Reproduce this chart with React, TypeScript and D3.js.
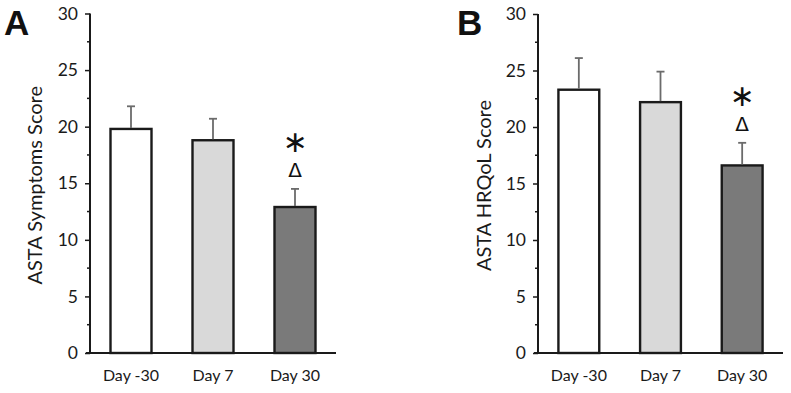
import { useEffect, useRef } from "react";
import * as d3 from "d3";

// categories shared by both panels
const days = ["Day -30", "Day 7", "Day 30"];
const barFills = ["#ffffff", "#d9d9d9", "#7a7a7a"];

// panel A - ASTA Symptoms
const symptomsMean = [19.8, 18.8, 12.9];
const symptomsErr = [2.0, 1.9, 1.6];

// panel B - ASTA HRQoL
const hrqolMean = [23.3, 22.2, 16.6];
const hrqolErr = [2.8, 2.7, 2.0];

const yTicks = [0, 5, 10, 15, 20, 25, 30];
const yMinorTicks = [2.5, 7.5, 12.5, 17.5, 22.5, 27.5];

const FONT = "Lato, 'Noto Sans', sans-serif";

const drawPanel = (svg, opts) => {
    const { left, right, top, bottom, letter, letterX, yLabel, yLabelX, means, errs } = opts;

    const x = d3.scaleBand().domain(days).range([left, right]).padding(0.5).paddingOuter(0.25);
    const y = d3.scaleLinear().domain([0, 30]).range([bottom, top]);

    const g = svg.append("g");

    // bars
    g.selectAll("rect.bar")
        .data(days)
        .join("rect")
        .attr("class", "bar")
        .attr("x", d => x(d))
        .attr("y", (d, i) => y(means[i]))
        .attr("width", x.bandwidth())
        .attr("height", (d, i) => y(0) - y(means[i]))
        .attr("fill", (d, i) => barFills[i])
        .attr("stroke", "#1a1a1a")
        .attr("stroke-width", 2.4);

    // error bars (upper only)
    const eb = g.selectAll("g.err").data(days).join("g").attr("class", "err");
    eb.append("line")
        .attr("x1", d => x(d) + x.bandwidth() / 2)
        .attr("x2", d => x(d) + x.bandwidth() / 2)
        .attr("y1", (d, i) => y(means[i]) - 1)
        .attr("y2", (d, i) => y(means[i] + errs[i]))
        .attr("stroke", "#6b6b6b")
        .attr("stroke-width", 1.8);
    eb.append("line")
        .attr("x1", d => x(d) + x.bandwidth() / 2 - 4)
        .attr("x2", d => x(d) + x.bandwidth() / 2 + 4)
        .attr("y1", (d, i) => y(means[i] + errs[i]))
        .attr("y2", (d, i) => y(means[i] + errs[i]))
        .attr("stroke", "#6b6b6b")
        .attr("stroke-width", 1.8);

    // y axis
    const yAxis = d3.axisLeft(y).tickValues(yTicks).tickSize(5).tickPadding(7).tickFormat(d3.format("d"));
    const ya = g.append("g")
        .attr("transform", `translate(${left},0)`)
        .call(yAxis);
    ya.select(".domain").attr("stroke", "#1a1a1a").attr("stroke-width", 2).attr("d", `M0,${top}V${bottom}`);
    ya.selectAll(".tick line").attr("stroke", "#1a1a1a").attr("stroke-width", 1.5);
    ya.selectAll(".tick text").attr("font-family", FONT).attr("font-size", 17.5).attr("fill", "#1a1a1a");

    g.append("g")
        .selectAll("line")
        .data(yMinorTicks)
        .join("line")
        .attr("x1", left - 3)
        .attr("x2", left)
        .attr("y1", d => y(d))
        .attr("y2", d => y(d))
        .attr("stroke", "#1a1a1a")
        .attr("stroke-width", 1.5);

    // x axis
    const xAxis = d3.axisBottom(x).tickSize(0).tickPadding(17);
    const xa = g.append("g")
        .attr("transform", `translate(0,${bottom})`)
        .call(xAxis);
    xa.select(".domain").attr("stroke", "#1a1a1a").attr("stroke-width", 2).attr("d", `M${left - 4},0H${right}`);
    xa.selectAll(".tick text").attr("font-family", FONT).attr("font-size", 16).attr("fill", "#1a1a1a");

    // y label
    g.append("text")
        .attr("transform", `translate(${yLabelX},${(top + bottom) / 2 + 2}) rotate(-90)`)
        .attr("text-anchor", "middle")
        .attr("dominant-baseline", "middle")
        .attr("font-family", FONT)
        .attr("font-size", 20)
        .attr("fill", "#1a1a1a")
        .text(yLabel);

    // panel letter
    g.append("text")
        .attr("x", letterX)
        .attr("y", 35)
        .attr("font-family", "'Liberation Sans', Arial, sans-serif")
        .attr("font-weight", "bold")
        .attr("font-size", 35)
        .attr("fill", "#111")
        .text(letter);

    // significance marks above Day 30
    const cx = x(days[2]) + x.bandwidth() / 2;
    const errTop = y(means[2] + errs[2]);
    g.append("text")
        .attr("x", cx)
        .attr("y", errTop - 19)
        .attr("text-anchor", "middle")
        .attr("dominant-baseline", "central")
        .attr("font-family", "'DejaVu Sans', sans-serif")
        .attr("font-size", 20)
        .attr("fill", "#111")
        .text("Δ");
    g.append("text")
        .attr("x", cx)
        .attr("y", errTop - 47)
        .attr("text-anchor", "middle")
        .attr("dominant-baseline", "central")
        .attr("font-family", "'DejaVu Sans', sans-serif")
        .attr("font-size", 30)
        .attr("fill", "#111")
        .text("∗");
};

const App = () => {
    const ref = useRef(null);

    useEffect(() => {
        const svg = d3.select(ref.current);
        svg.selectAll("*").remove();

        drawPanel(svg, {
            left: 90, right: 336, top: 13.5, bottom: 353,
            letter: "A", letterX: 4,
            yLabel: "ASTA Symptoms Score", yLabelX: 37,
            means: symptomsMean, errs: symptomsErr
        });

        drawPanel(svg, {
            left: 538, right: 783, top: 14, bottom: 353,
            letter: "B", letterX: 457,
            yLabel: "ASTA HRQoL Score", yLabelX: 486,
            means: hrqolMean, errs: hrqolErr
        });
    }, []);

    return (
        <svg
            ref={ref}
            width={791}
            height={393}
            style={{ position: "absolute", left: 0, top: 0, background: "#fff" }}
        />
    );
};

export default App;
